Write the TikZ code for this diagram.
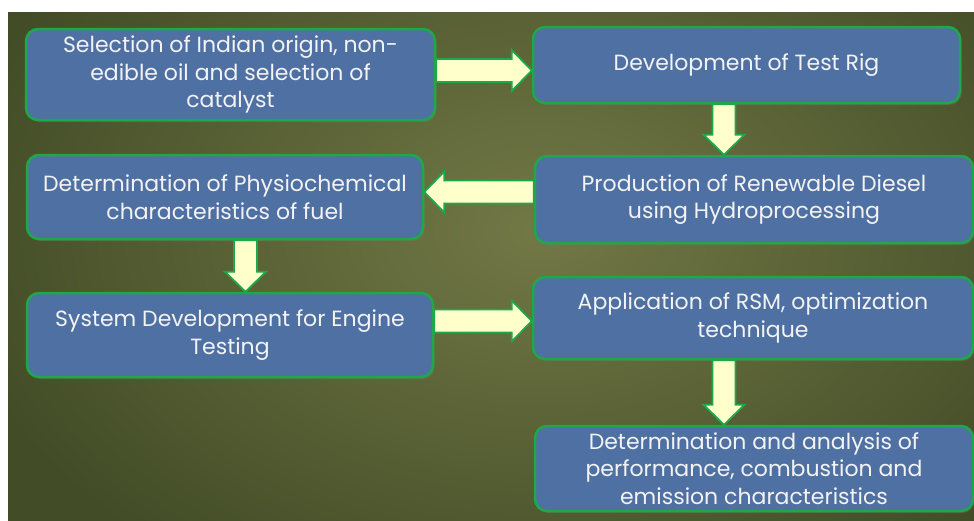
\documentclass[tikz,border=0pt]{standalone}
\usepackage{fontspec}
\setmainfont{Poppins}
\usetikzlibrary{calc,shadows}

\definecolor{boxfill}{RGB}{79,112,163}
\definecolor{boxline}{RGB}{30,168,74}
\definecolor{arrowfill}{RGB}{255,255,204}
\definecolor{bgin}{RGB}{114,120,70}
\definecolor{bgout}{RGB}{66,76,38}
\definecolor{txt}{RGB}{243,243,243}

\tikzset{
  stage/.style={draw=boxline, line width=2.5pt, fill=boxfill,
    rounded corners=12pt, text=txt, align=center, inner sep=0pt,
    font=\fontsize{22}{27.5}\selectfont,
    drop shadow={opacity=0.3, shadow xshift=1.5pt, shadow yshift=-2pt}},
  flow/.style={draw=boxline, line width=1.8pt, fill=arrowfill, line join=miter},
}

% block arrow from #1 to its tip at #2
\newcommand\blockarrow[2]{%
  \coordinate (hb) at ($(#2)!20pt!(#1)$);
  \draw[flow] ($(#1)!11.5pt!90:(#2)$) -- ($(hb)!11.5pt!90:(#2)$)
    -- ($(hb)!20.5pt!90:(#2)$) -- (#2) -- ($(hb)!20.5pt!-90:(#2)$)
    -- ($(hb)!11.5pt!-90:(#2)$) -- ($(#1)!11.5pt!-90:(#2)$) -- cycle;}

\begin{document}
\begin{tikzpicture}[x=1pt, y=-1pt]
\useasboundingbox (0,0) rectangle (974,520);
\fill[white] (0,0) rectangle (974,520);

% background
\begin{scope}
  \clip (8,12) rectangle (974,520);
  \shade[inner color=bgin, outer color=bgout] (-60,-180) rectangle (1140,640);
\end{scope}

% stages
\node[stage, minimum width=409pt, minimum height=91pt] (A) at (230.5,74.5)
  {Selection of Indian origin, non-\\edible oil and selection of\\catalyst};
\node[stage, minimum width=427pt, minimum height=76pt] (B) at (746.5,65)
  {Development of Test Rig};
\node[stage, minimum width=438pt, minimum height=87pt] (C) at (754,199.5)
  {Production of Renewable Diesel\\using Hydroprocessing};
\node[stage, minimum width=396pt, minimum height=84pt] (D) at (225,197)
  {Determination of Physiochemical\\characteristics of fuel};
\node[stage, minimum width=406pt, minimum height=84pt] (E) at (230,335)
  {System Development for Engine\\Testing};
\node[stage, minimum width=440pt, minimum height=82pt] (F) at (753,318)
  {Application of RSM, optimization\\technique};
\node[stage, minimum width=438pt, minimum height=85pt] (G) at (754,468.5)
  {Determination and analysis of\\performance, combustion and\\emission characteristics};

% connectors
\coordinate (ab) at (0,70.5);
\coordinate (bc) at (724,0);
\coordinate (cd) at (0,192);
\coordinate (de) at (245.5,0);
\coordinate (ef) at (0,321);
\coordinate (fg) at (724,0);
\blockarrow{A.east |- ab}{B.west |- ab}
\blockarrow{B.south -| bc}{C.north -| bc}
\blockarrow{C.west |- cd}{D.east |- cd}
\blockarrow{D.south -| de}{E.north -| de}
\blockarrow{E.east |- ef}{F.west |- ef}
\blockarrow{F.south -| fg}{G.north -| fg}
\end{tikzpicture}
\end{document}
